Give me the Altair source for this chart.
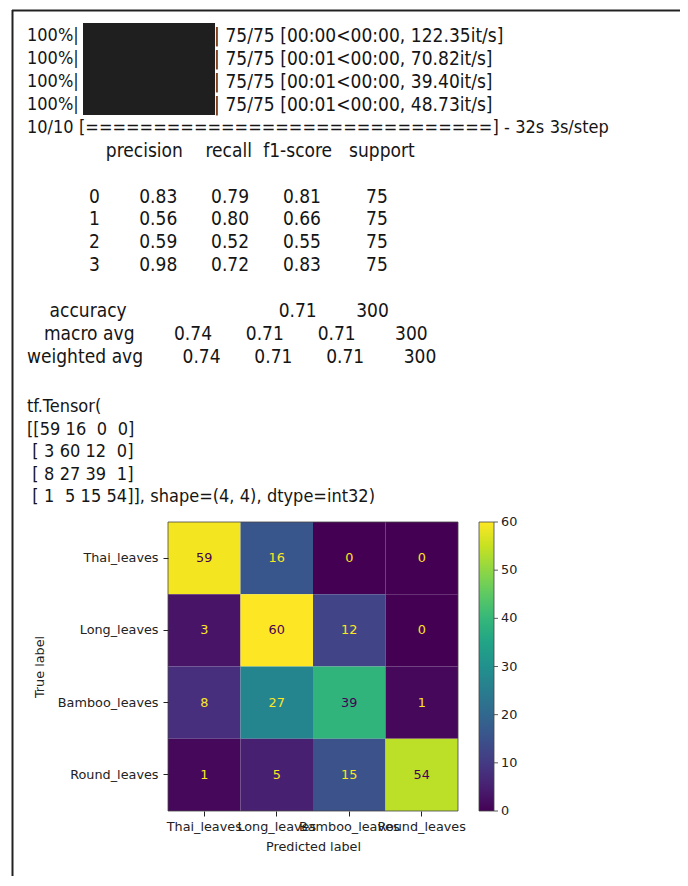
import altair as alt
import pandas as pd

# ---------------- data ----------------
tqdm_total = 75
tqdm_elapsed = ["00:00", "00:01", "00:01", "00:01"]
tqdm_rate = ["122.35", "70.82", "39.40", "48.73"]

steps_done = 10
steps_total = 10
step_time_total = "32s"
step_time = "3s/step"

report_headers = ["precision", "recall", "f1-score", "support"]
report_classes = ["0", "1", "2", "3"]
precision = [0.83, 0.56, 0.59, 0.98]
recall = [0.79, 0.80, 0.52, 0.72]
f1_score = [0.81, 0.66, 0.55, 0.83]
support = [75, 75, 75, 75]
accuracy = 0.71
total_support = 300
macro_avg = [0.74, 0.71, 0.71]
weighted_avg = [0.74, 0.71, 0.71]

class_labels = ["Thai_leaves", "Long_leaves", "Bamboo_leaves", "Round_leaves"]
confusion = [
    [59, 16, 0, 0],
    [3, 60, 12, 0],
    [8, 27, 39, 1],
    [1, 5, 15, 54],
]
colorbar_ticks = [0, 10, 20, 30, 40, 50, 60]

# ---------------- text lines (console output) ----------------
SP = "\u2004"  # visible space that is not collapsed or trimmed
ZW = "\u200b"  # keeps leading spaces from being trimmed


def vis(s):
    return ZW + s.replace(" ", SP)


W = 12
prefix_rows = []
suffix_rows = []
for i, (e, r) in enumerate(zip(tqdm_elapsed, tqdm_rate)):
    prefix_rows.append({"line": i, "txt": "100%|"})
    suffix_rows.append({"line": i, "txt": vis(f"| {tqdm_total}/{tqdm_total} [{e}<00:00, {r}it/s]")})

keras_rows = [{"line": 4, "txt": vis(f"{steps_done}/{steps_total} [" + "=" * 30 + f"] - {step_time_total} {step_time}")}]

report_rows = []
head = "{:>{w}s} ".format("", w=W) + "".join(" {:>9}".format(h) for h in report_headers)
report_rows.append({"line": 5, "txt": vis(head)})
for k, c in enumerate(report_classes):
    row = "{:>{w}s} ".format(c, w=W) + "".join(
        " {:>9.2f}".format(v) for v in (precision[k], recall[k], f1_score[k])
    ) + " {:>9}".format(support[k])
    report_rows.append({"line": 7 + k, "txt": vis(row)})
acc = "{:>{w}s} ".format("accuracy", w=W) + " {:>9}".format("") * 2 + " {:>9.2f}".format(accuracy) + " {:>9}".format(total_support)
report_rows.append({"line": 12, "txt": vis(acc)})
for n, (name, vals) in enumerate([("macro avg", macro_avg), ("weighted avg", weighted_avg)]):
    row = "{:>{w}s} ".format(name, w=W) + "".join(" {:>9.2f}".format(v) for v in vals) + " {:>9}".format(total_support)
    report_rows.append({"line": 13 + n, "txt": vis(row)})

tensor_rows = [{"line": 0, "txt": "tf.Tensor("}]
for i, row in enumerate(confusion):
    body = " ".join("{:2d}".format(v) for v in row)
    if i == 0:
        s = "[[" + body + "]"
    elif i == len(confusion) - 1:
        s = " [" + body + "]], shape=(4, 4), dtype=int32)"
    else:
        s = " [" + body + "]"
    tensor_rows.append({"line": i + 1, "txt": vis(s)})

cells = []
for i, t in enumerate(class_labels):
    for j, p in enumerate(class_labels):
        cells.append({"true": t, "pred": p, "value": confusion[i][j]})
cells = pd.DataFrame(cells)

CONSOLE_FONT = "DejaVu Sans Condensed, Liberation Sans Narrow, DejaVu Sans"
PLOT_FONT = "DejaVu Sans"
one = pd.DataFrame({"a": [0]})

# ---------------- layers ----------------
frame_top = alt.Chart(one).mark_rule(color="#222", strokeWidth=2).encode(
    x=alt.value(4), x2=alt.value(672), y=alt.value(2.5)
)
frame_left = alt.Chart(one).mark_rule(color="#222", strokeWidth=2).encode(
    x=alt.value(4.5), y=alt.value(2), y2=alt.value(868)
)
bar_box = alt.Chart(one).mark_rect(color="#1f1f1f").encode(
    x=alt.value(75), x2=alt.value(207), y=alt.value(15), y2=alt.value(107)
)

ya = alt.Y("line:Q", scale=alt.Scale(domain=[0, 14], range=[28, 349], nice=False, zero=False), axis=None)
yb = alt.Y("line:Q", scale=alt.Scale(domain=[0, 4], range=[399, 489], nice=False, zero=False), axis=None)


def console(rows, x, y, size):
    return alt.Chart(pd.DataFrame(rows)).mark_text(
        align="left", baseline="middle", font=CONSOLE_FONT, fontSize=size, color="#151515"
    ).encode(x=alt.value(x), y=y, text="txt:N")


prefix_layer = console(prefix_rows, 19, ya, 18)
suffix_layer = console(suffix_rows, 206, ya, 19)
keras_layer = console(keras_rows, 19, ya, 18)
report_layer = console(report_rows, 19, ya, 19)
tensor_layer = console(tensor_rows, 19, yb, 18)

xh = alt.X(
    "pred:N",
    sort=class_labels,
    scale=alt.Scale(domain=class_labels, range=[160, 450], paddingInner=0, paddingOuter=0),
    axis=alt.Axis(
        orient="bottom", offset=-65, title="Predicted label", labelAngle=0, labelOverlap=False,
        domain=False, grid=False, tickSize=5, labelPadding=4, titlePadding=8,
        labelFont=PLOT_FONT, labelFontSize=12.8, labelColor="#222", tickColor="#222",
        titleFont=PLOT_FONT, titleFontSize=12.8, titleFontWeight="normal", titleColor="#222",
    ),
)
yh = alt.Y(
    "true:N",
    sort=class_labels,
    scale=alt.Scale(domain=class_labels, range=[514, 803], paddingInner=0, paddingOuter=0),
    axis=alt.Axis(
        orient="left", offset=-160, title="True label", labelOverlap=False,
        domain=False, grid=False, tickSize=5, labelPadding=5, titlePadding=11,
        labelFont=PLOT_FONT, labelFontSize=12.8, labelColor="#222", tickColor="#222",
        titleFont=PLOT_FONT, titleFontSize=12.8, titleFontWeight="normal", titleColor="#222",
    ),
)

rect = alt.Chart(cells).mark_rect().encode(
    x=xh,
    y=yh,
    color=alt.Color(
        "value:Q",
        scale=alt.Scale(scheme="viridis", domain=[0, 60]),
        legend=alt.Legend(
            orient="none", legendX=471, legendY=514, direction="vertical", title=None,
            gradientLength=289, gradientThickness=15, padding=0,
            values=colorbar_ticks, labelExpr="''",
            gradientStrokeColor="#444", gradientStrokeWidth=0.8,
        ),
    ),
)
cell_text = alt.Chart(cells).mark_text(font=PLOT_FONT, fontSize=12.8, baseline="middle", align="center").encode(
    x=xh,
    y=yh,
    text="value:Q",
    color=alt.condition(alt.datum.value < 30, alt.value("#fde725"), alt.value("#440154")),
)
heatmap = alt.layer(rect, cell_text)

spine = alt.Chart(one).mark_rect(filled=False, color="#444", strokeWidth=0.8).encode(
    x=alt.value(160), x2=alt.value(450), y=alt.value(514), y2=alt.value(803)
)

cb_df = pd.DataFrame({"v": colorbar_ticks})
cb_y = alt.Y("v:Q", scale=alt.Scale(domain=[0, 60], range=[803, 514], nice=False, zero=False), axis=None)
cb_tick_layer = alt.layer(
    alt.Chart(cb_df).mark_rule(color="#333", strokeWidth=0.8).encode(
        y=cb_y, x=alt.value(486), x2=alt.value(490)
    ),
    alt.Chart(cb_df).mark_text(
        align="left", baseline="middle", font=PLOT_FONT, fontSize=12.8, color="#222"
    ).encode(y=cb_y, x=alt.value(493), text="v:Q"),
)

chart = (
    alt.layer(
        frame_top, frame_left, bar_box,
        prefix_layer, suffix_layer, keras_layer, report_layer, tensor_layer,
        heatmap, spine, cb_tick_layer,
    )
    .resolve_scale(x="independent", y="independent")
    .properties(width=672, height=868, autosize="none", padding=0, background="white")
    .configure_view(stroke=None)
)

chart.save("out.html", embed_options={"renderer": "svg", "actions": False})
